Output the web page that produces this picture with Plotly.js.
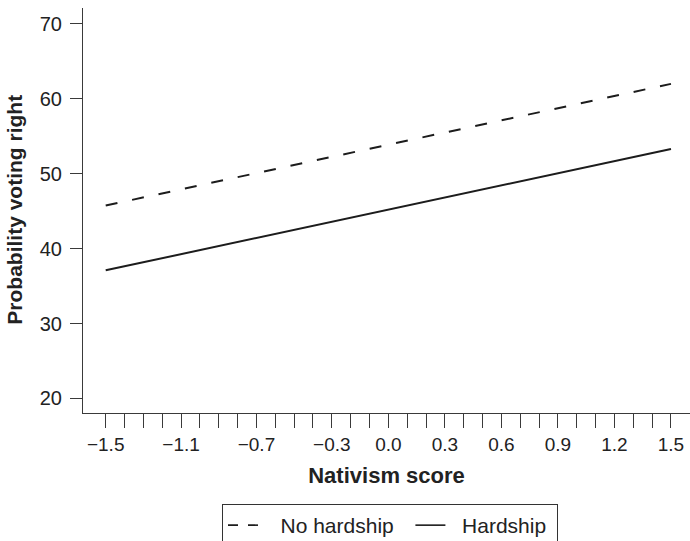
<!DOCTYPE html>
<html>
<head>
<meta charset="utf-8">
<script src="https://cdn.plot.ly/plotly-3.0.1.min.js"></script>
<style>html,body{margin:0;padding:0;background:#fff;}#chart{width:690px;height:541px;}</style>
</head>
<body>
<div id="chart"></div>
<script>
// Data
const nativism = [-1.5, 1.5];
const noHardship = [45.75, 62.0];
const hardship = [37.1, 53.3];
const seriesNames = ["No hardship", "Hardship"];
const xTickVals = [-1.5, -1.1, -0.7, -0.3, 0.0, 0.3, 0.6, 0.9, 1.2, 1.5];
const xTickText = ["\u22121.5", "\u22121.1", "\u22120.7", "\u22120.3", "0.0", "0.3", "0.6", "0.9", "1.2", "1.5"];
const yTickVals = [20, 30, 40, 50, 60, 70];
const xTitle = "Nativism score";
const yTitle = "Probability voting right";

// minor tick positions: every 0.1 between the end labels
const xMinorVals = [];
for (let i = 0; i <= 30; i++) xMinorVals.push(Math.round((-1.5 + i * 0.1) * 10) / 10);

const ink = "#1c1c1c";
const axisCol = "#3a3a3a";
const font = "Liberation Sans, Arial, Helvetica, sans-serif";
const nb = "\u00a0";

const traces = [
  {x: nativism, y: noHardship, name: seriesNames[0], mode: "lines", showlegend: false,
   line: {color: ink, width: 2, dash: "12px,15px"}},
  {x: nativism, y: hardship, name: seriesNames[1], mode: "lines", showlegend: false,
   line: {color: ink, width: 2}},
  // legend-only entries (same series, legend sample styling / spacing)
  {x: [null], y: [null], name: nb + nb + nb + seriesNames[0] + nb + nb, mode: "lines",
   line: {color: ink, width: 1.6, dash: "10px,10px"}},
  {x: [null], y: [null], name: nb + nb + seriesNames[1] + nb, mode: "lines",
   line: {color: ink, width: 1.6}}
];

const layout = {
  width: 690, height: 541,
  margin: {l: 83, r: 0, t: 8, b: 128},
  paper_bgcolor: "#fff", plot_bgcolor: "#fff",
  font: {family: font, size: 19, color: "#222"},
  showlegend: true,
  legend: {
    orientation: "h", xref: "container", yref: "container",
    x: 222 / 690, xanchor: "left", y: 1 - 504 / 541, yanchor: "top",
    bordercolor: "#333", borderwidth: 1, font: {size: 21, color: "#222"},
    traceorder: "normal"
  },
  annotations: [{
    text: "<b>" + yTitle + "</b>", textangle: -90, showarrow: false,
    xref: "paper", yref: "paper", x: -0.112, y: 0.502, xanchor: "center", yanchor: "middle",
    font: {size: 21, color: "#222"}
  }],
  xaxis: {
    range: [-1.6205, 1.601], showgrid: false, zeroline: false,
    showline: true, linecolor: axisCol, linewidth: 1,
    tickmode: "array", tickvals: xTickVals, ticktext: xTickText,
    ticks: "outside", ticklen: 14, tickcolor: axisCol, tickwidth: 1,
    minor: {tickmode: "array", tickvals: xMinorVals, ticks: "outside", ticklen: 14, tickcolor: axisCol, tickwidth: 1, showgrid: false},
    tickfont: {size: 19, color: "#222"},
    title: {text: "<b>" + xTitle + "</b>", font: {size: 22, color: "#222"}, standoff: 13},
    fixedrange: true
  },
  yaxis: {
    range: [18.05, 72.13], showgrid: false, zeroline: false,
    showline: true, linecolor: axisCol, linewidth: 1,
    tickmode: "array", tickvals: yTickVals,
    ticks: "outside", ticklen: 12, tickcolor: axisCol, tickwidth: 1,
    ticklabelstandoff: 4,
    tickfont: {size: 20, color: "#222"},
    fixedrange: true
  }
};

Plotly.newPlot("chart", traces, layout, {displayModeBar: false, staticPlot: true});
</script>
</body>
</html>
